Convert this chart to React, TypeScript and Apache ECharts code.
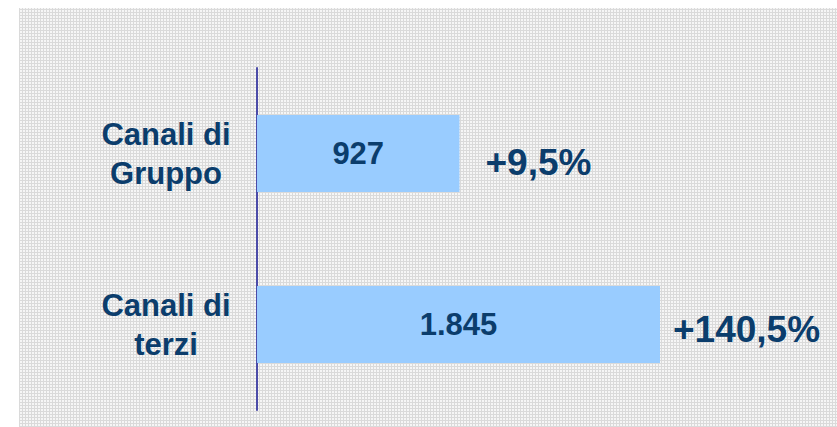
import React, { useEffect, useRef } from "react";
import * as echarts from "echarts";

const categories = ["Canali di\nGruppo", "Canali di\nterzi"];
const values = [927, 1845];
const valueLabels = ["927", "1.845"];
const growthLabels = ["+9,5%", "+140,5%"];

const NAVY = "#0b3d6c";
const FONT = "Arial, 'Liberation Sans', sans-serif";

export default function App() {
  const ref = useRef<HTMLDivElement>(null);
  useEffect(() => {
    if (!ref.current) return;
    const chart = echarts.init(ref.current, null, { renderer: "svg" });
    const growthLabelStyle = [
      { distance: 26, offset: [0, 9] },
      { distance: 13, offset: [0, 5] },
    ];
    chart.setOption({
      animation: false,
      backgroundColor: "transparent",
      grid: { left: 257, top: 68, bottom: 17, right: 177 },
      xAxis: { type: "value", min: 0, max: 1845, show: false },
      yAxis: {
        type: "category",
        inverse: true,
        data: categories,
        axisLine: { show: true, lineStyle: { color: "#4b4ba8", width: 2 } },
        axisTick: { show: false },
        axisLabel: {
          align: "center",
          margin: 91,
          fontFamily: FONT,
          fontWeight: "bold",
          fontSize: 31,
          lineHeight: 39,
          color: NAVY,
          padding: [0, 0, 2, 0],
        },
        splitLine: { show: false },
      },
      series: [
        {
          type: "bar",
          barWidth: 77,
          data: values,
          itemStyle: { color: "#99ccff" },
          label: {
            show: true,
            position: "inside",
            formatter: (p: any) => valueLabels[p.dataIndex],
            fontFamily: FONT,
            fontWeight: "bold",
            fontSize: 31,
            color: NAVY,
          },
        },
        {
          type: "bar",
          barWidth: 77,
          barGap: "-100%",
          silent: true,
          data: values.map((v, i) => ({
            value: v,
            label: growthLabelStyle[i],
          })),
          itemStyle: { color: "transparent" },
          label: {
            show: true,
            position: "right",
            formatter: (p: any) => growthLabels[p.dataIndex],
            fontFamily: FONT,
            fontWeight: "bold",
            fontSize: 37,
            color: NAVY,
          },
        },
      ],
    });
    return () => chart.dispose();
  }, []);

  const pattern: React.CSSProperties = {
    position: "absolute",
    left: 19,
    top: 8,
    right: 0,
    bottom: 0,
    backgroundColor: "#f6f6f6",
    backgroundImage:
      "repeating-linear-gradient(0deg, #dadada 0px, #dadada 1px, transparent 1px, transparent 3px), repeating-linear-gradient(90deg, #dadada 0px, #dadada 1px, transparent 1px, transparent 3px)",
  };

  return (
    <div
      style={{
        position: "fixed",
        left: 0,
        top: 0,
        width: 837,
        height: 427,
        background: "#ffffff",
        overflow: "hidden",
      }}
    >
      <div style={pattern} />
      <div
        ref={ref}
        style={{ position: "absolute", left: 0, top: 0, width: 837, height: 427 }}
      />
    </div>
  );
}
